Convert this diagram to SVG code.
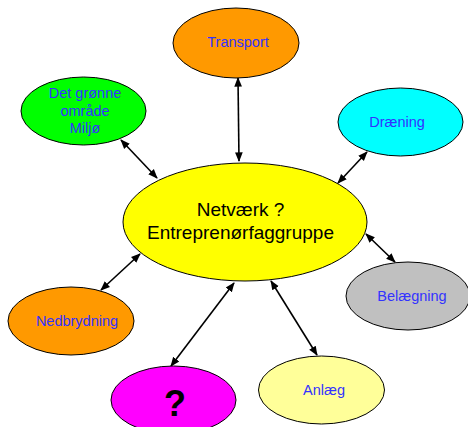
<svg xmlns="http://www.w3.org/2000/svg" width="468" height="427" viewBox="0 0 468 427">
<style>
.n{stroke:#000;stroke-width:1}
.t{font-family:"Liberation Sans",Arial,sans-serif;font-size:14.5px;fill:#3333ff;text-anchor:middle}
.c{stroke:#000;stroke-width:1.6;fill:none;marker-start:url(#a);marker-end:url(#a)}
</style>
<defs>
<marker id="a" viewBox="0 0 10 10" refX="9" refY="5" markerWidth="6" markerHeight="6" orient="auto-start-reverse" markerUnits="strokeWidth">
<path d="M0,1 L10,5 L0,9 Z" fill="#000"/>
</marker>
</defs>
<rect width="468" height="427" fill="#fff"/>
<g id="connectors">
<line class="c" x1="238" y1="78" x2="239" y2="161"/>
<line class="c" x1="121" y1="140" x2="157" y2="178"/>
<line class="c" x1="367" y1="152" x2="338" y2="183"/>
<line class="c" x1="140" y1="254" x2="101" y2="290"/>
<line class="c" x1="234" y1="283" x2="171" y2="366"/>
<line class="c" x1="271" y1="281" x2="317" y2="355"/>
<line class="c" x1="366" y1="234" x2="395" y2="262"/>
</g>
<g id="center">
<ellipse class="n" cx="245" cy="222" rx="122" ry="59" fill="#ffff00"/>
<text x="240.5" y="216" font-family="Liberation Sans,Arial,sans-serif" font-size="19" text-anchor="middle" fill="#000">Netværk ?</text>
<text x="240.5" y="239" font-family="Liberation Sans,Arial,sans-serif" font-size="19" text-anchor="middle" fill="#000">Entreprenørfaggruppe</text>
</g>
<g id="transport">
<ellipse class="n" cx="236" cy="43" rx="63" ry="35" fill="#ff9900"/>
<text class="t" x="238" y="47">Transport</text>
</g>
<g id="groenne">
<ellipse class="n" cx="83.5" cy="111" rx="62.5" ry="34" fill="#00ff00"/>
<text class="t" x="85" y="98">Det grønne</text>
<text class="t" x="85" y="116">område</text>
<text class="t" x="85" y="133">Miljø</text>
</g>
<g id="draening">
<ellipse class="n" cx="400.5" cy="122" rx="62.5" ry="34" fill="#00ffff"/>
<text class="t" x="397" y="127">Dræning</text>
</g>
<g id="nedbrydning">
<ellipse class="n" cx="71" cy="321" rx="63" ry="34" fill="#ff9900"/>
<text class="t" x="77" y="326">Nedbrydning</text>
</g>
<g id="ukendt">
<ellipse class="n" cx="173.5" cy="400" rx="62.5" ry="34" fill="#ff00ff"/>
<text x="175" y="416" font-family="Liberation Sans,Arial,sans-serif" font-size="36" font-weight="bold" text-anchor="middle" fill="#000">?</text>
</g>
<g id="anlaeg">
<ellipse class="n" cx="321.5" cy="390" rx="63" ry="34" fill="#ffff99"/>
<text class="t" x="324" y="395">Anlæg</text>
</g>
<g id="belaegning">
<ellipse class="n" cx="408" cy="296" rx="62" ry="34" fill="#c0c0c0"/>
<text class="t" x="412" y="301">Belægning</text>
</g>
</svg>
